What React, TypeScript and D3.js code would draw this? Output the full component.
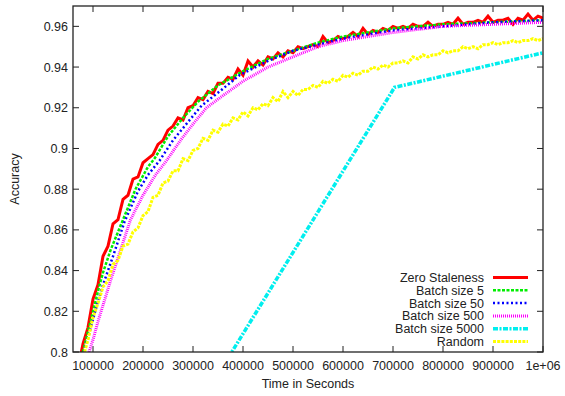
import * as React from 'react';
import * as d3 from 'd3';

// Zero Staleness (noisy)
const zeroStaleness: [number, number][] = [
  [75000, 0.798], [80000, 0.804], [90000, 0.812], [100000, 0.826], [110000, 0.833],
  [120000, 0.847], [130000, 0.852], [140000, 0.863], [150000, 0.865], [160000, 0.875],
  [170000, 0.877], [180000, 0.885], [190000, 0.886], [200000, 0.893], [210000, 0.895],
  [220000, 0.897], [230000, 0.902], [240000, 0.904], [250000, 0.909], [260000, 0.911],
  [270000, 0.915], [280000, 0.914], [290000, 0.920], [300000, 0.921], [310000, 0.925],
  [320000, 0.924], [330000, 0.928], [340000, 0.927], [350000, 0.932], [360000, 0.932],
  [370000, 0.935], [380000, 0.934], [390000, 0.939], [400000, 0.936], [410000, 0.943],
  [420000, 0.940], [430000, 0.943], [440000, 0.941], [450000, 0.945], [460000, 0.944],
  [470000, 0.947], [480000, 0.945], [490000, 0.948], [500000, 0.947], [510000, 0.950],
  [520000, 0.949], [530000, 0.950], [540000, 0.951], [550000, 0.950], [560000, 0.955],
  [570000, 0.952], [580000, 0.953], [590000, 0.955], [600000, 0.954], [610000, 0.955],
  [620000, 0.957], [630000, 0.955], [640000, 0.959], [650000, 0.956], [660000, 0.958],
  [670000, 0.957], [680000, 0.959], [690000, 0.958], [700000, 0.960], [710000, 0.959],
  [720000, 0.960], [730000, 0.959], [740000, 0.961], [750000, 0.960], [760000, 0.960],
  [770000, 0.962], [780000, 0.960], [790000, 0.961], [800000, 0.961], [810000, 0.962],
  [820000, 0.961], [830000, 0.964], [840000, 0.961], [850000, 0.962], [860000, 0.962],
  [870000, 0.963], [880000, 0.962], [890000, 0.965], [900000, 0.962], [910000, 0.963],
  [920000, 0.963], [930000, 0.964], [940000, 0.961], [950000, 0.964], [960000, 0.963],
  [970000, 0.966], [980000, 0.963], [990000, 0.965], [1000000, 0.964],
];

const batch5: [number, number][] = [
  [80000, 0.800], [90000, 0.810], [100000, 0.820], [110000, 0.830], [120000, 0.839],
  [135000, 0.850], [160000, 0.865], [185000, 0.880], [210000, 0.891], [223000, 0.895],
  [250000, 0.906], [280000, 0.915], [310000, 0.923], [350000, 0.931], [400000, 0.938],
  [450000, 0.944], [500000, 0.948], [550000, 0.952], [600000, 0.955], [650000, 0.957],
  [700000, 0.959], [800000, 0.961], [900000, 0.962], [1000000, 0.963],
];

const batch50: [number, number][] = [
  [82000, 0.800], [90000, 0.807], [100000, 0.816], [110000, 0.825], [120000, 0.833],
  [140000, 0.847], [163000, 0.864], [190000, 0.879], [210000, 0.887], [233000, 0.894],
  [260000, 0.904], [290000, 0.913], [317000, 0.921], [353000, 0.928], [393000, 0.936],
  [450000, 0.943], [500000, 0.948], [550000, 0.951], [600000, 0.954], [650000, 0.956],
  [700000, 0.958], [800000, 0.960], [900000, 0.962], [1000000, 0.963],
];

const batch500: [number, number][] = [
  [92000, 0.800], [100000, 0.806], [110000, 0.815], [120000, 0.823], [135000, 0.835],
  [155000, 0.850], [175000, 0.865], [200000, 0.877], [225000, 0.887], [247000, 0.894],
  [275000, 0.904], [300000, 0.912], [327000, 0.920], [360000, 0.926], [400000, 0.933],
  [450000, 0.940], [500000, 0.945], [550000, 0.950], [600000, 0.953], [650000, 0.955],
  [700000, 0.957], [800000, 0.960], [900000, 0.961], [1000000, 0.962],
];

const batch5000: [number, number][] = [
  [350000, 0.789], [703000, 0.930], [1000000, 0.947],
];

// Random (noisy)
const randomSeries: [number, number][] = [
  [83000, 0.800], [90000, 0.806], [100000, 0.817], [110000, 0.824], [120000, 0.832],
  [130000, 0.835], [140000, 0.843], [150000, 0.845], [160000, 0.852], [170000, 0.853],
  [180000, 0.859], [190000, 0.861], [200000, 0.867], [210000, 0.869], [220000, 0.876],
  [230000, 0.877], [240000, 0.883], [250000, 0.884], [260000, 0.889], [270000, 0.889],
  [280000, 0.895], [290000, 0.894], [300000, 0.899], [310000, 0.900], [320000, 0.905],
  [330000, 0.904], [340000, 0.909], [350000, 0.908], [360000, 0.912], [370000, 0.911],
  [380000, 0.915], [390000, 0.914], [400000, 0.918], [410000, 0.916], [420000, 0.920],
  [430000, 0.919], [440000, 0.922], [450000, 0.921], [460000, 0.925], [470000, 0.923],
  [480000, 0.928], [490000, 0.925], [500000, 0.928], [510000, 0.926], [520000, 0.929],
  [530000, 0.929], [540000, 0.931], [550000, 0.930], [560000, 0.933], [570000, 0.932],
  [580000, 0.934], [590000, 0.933], [600000, 0.936], [610000, 0.935], [620000, 0.937],
  [630000, 0.936], [640000, 0.938], [650000, 0.938], [660000, 0.940], [670000, 0.939],
  [680000, 0.941], [690000, 0.940], [700000, 0.942], [710000, 0.942], [720000, 0.943],
  [730000, 0.942], [740000, 0.945], [750000, 0.944], [760000, 0.946], [770000, 0.945],
  [780000, 0.946], [790000, 0.946], [800000, 0.948], [810000, 0.947], [820000, 0.948],
  [830000, 0.948], [840000, 0.950], [850000, 0.949], [860000, 0.950], [870000, 0.949],
  [880000, 0.951], [890000, 0.951], [900000, 0.952], [910000, 0.951], [920000, 0.952],
  [930000, 0.952], [940000, 0.953], [950000, 0.952], [960000, 0.953], [970000, 0.953],
  [980000, 0.954], [990000, 0.953], [1000000, 0.954],
];

const xTicks = [100000, 200000, 300000, 400000, 500000, 600000, 700000, 800000, 900000, 1000000];
const xTickLabels = ['100000', '200000', '300000', '400000', '500000', '600000', '700000', '800000', '900000', '1e+06'];
const yTicks = [0.8, 0.82, 0.84, 0.86, 0.88, 0.9, 0.92, 0.94, 0.96];
const yTickLabels = ['0.8', '0.82', '0.84', '0.86', '0.88', '0.9', '0.92', '0.94', '0.96'];

const seriesNames = ['Zero Staleness', 'Batch size 5', 'Batch size 50', 'Batch size 500', 'Batch size 5000', 'Random'];
const seriesData = [zeroStaleness, batch5, batch50, batch500, batch5000, randomSeries];
const seriesStyles = [
  {color: '#ff0000', width: 3, dash: null},
  {color: '#00ee00', width: 2.5, dash: '3,1.5'},
  {color: '#0000ff', width: 2.5, dash: '2,2.5'},
  {color: '#ff00ff', width: 3, dash: '1,1'},
  {color: '#00eeee', width: 3.5, dash: '5,1.5,2,1.5'},
  {color: '#ffff00', width: 3, dash: '3,1.2'},
];

const FONT = 'Liberation Sans, Arial, sans-serif';

export default function App() {
  const ref = React.useRef<SVGSVGElement>(null);

  React.useEffect(() => {
    const width = 565;
    const height = 396;
    const left = 73, right = 543, top = 6, bottom = 352;

    const svg = d3.select(ref.current);
    svg.selectAll('*').remove();

    const x = d3.scaleLinear().domain([60000, 1000000]).range([left, right]);
    const y = d3.scaleLinear().domain([0.8, 0.97]).range([bottom, top]);

    svg.append('rect').attr('width', width).attr('height', height).attr('fill', '#fff');

    svg.append('clipPath').attr('id', 'plot-clip')
      .append('rect').attr('x', left).attr('y', top).attr('width', right - left).attr('height', bottom - top);

    // ticks, mirrored on all sides
    const tickLen = 6;
    const ticks = svg.append('g').attr('stroke', '#222').attr('stroke-width', 1);
    xTicks.forEach(t => {
      ticks.append('line').attr('x1', x(t)).attr('x2', x(t)).attr('y1', bottom).attr('y2', bottom - tickLen);
      ticks.append('line').attr('x1', x(t)).attr('x2', x(t)).attr('y1', top).attr('y2', top + tickLen);
    });
    yTicks.forEach(t => {
      ticks.append('line').attr('x1', left).attr('x2', left + tickLen).attr('y1', y(t)).attr('y2', y(t));
      ticks.append('line').attr('x1', right).attr('x2', right - tickLen).attr('y1', y(t)).attr('y2', y(t));
    });

    svg.append('g').selectAll('text').data(xTicks).join('text')
      .attr('x', d => x(d)).attr('y', 370)
      .attr('text-anchor', 'middle')
      .attr('font-family', FONT).attr('font-size', 12.5).attr('fill', '#222')
      .text((d, i) => xTickLabels[i]);

    svg.append('g').selectAll('text').data(yTicks).join('text')
      .attr('x', 68).attr('y', d => y(d) + 4.5)
      .attr('text-anchor', 'end')
      .attr('font-family', FONT).attr('font-size', 12.5).attr('fill', '#222')
      .text((d, i) => yTickLabels[i]);

    svg.append('text')
      .attr('x', (left + right) / 2).attr('y', 388)
      .attr('text-anchor', 'middle')
      .attr('font-family', FONT).attr('font-size', 12.5).attr('fill', '#222')
      .text('Time in Seconds');

    svg.append('text')
      .attr('transform', `translate(19,${(top + bottom) / 2}) rotate(-90)`)
      .attr('text-anchor', 'middle')
      .attr('font-family', FONT).attr('font-size', 12.5).attr('fill', '#222')
      .text('Accuracy');

    const line = d3.line<[number, number]>()
      .x(d => x(d[0]))
      .y(d => y(d[1]));

    const plot = svg.append('g').attr('clip-path', 'url(#plot-clip)');
    seriesData.forEach((data, i) => {
      const s = seriesStyles[i];
      plot.append('path')
        .datum(data)
        .attr('fill', 'none')
        .attr('stroke', s.color)
        .attr('stroke-width', s.width)
        .attr('stroke-dasharray', s.dash)
        .attr('stroke-linejoin', 'miter')
        .attr('d', line);
    });

    // legend
    const legend = svg.append('g');
    seriesNames.forEach((name, i) => {
      const s = seriesStyles[i];
      const ly = 277.5 + i * 12.8;
      legend.append('text')
        .attr('x', 484).attr('y', ly + 4.5)
        .attr('text-anchor', 'end')
        .attr('font-family', FONT).attr('font-size', 12.5).attr('fill', '#222')
        .text(name);
      legend.append('line')
        .attr('x1', 493).attr('x2', 528).attr('y1', ly).attr('y2', ly)
        .attr('stroke', s.color)
        .attr('stroke-width', s.width)
        .attr('stroke-dasharray', s.dash);
    });

    // frame
    svg.append('rect')
      .attr('x', left).attr('y', top).attr('width', right - left).attr('height', bottom - top)
      .attr('fill', 'none').attr('stroke', '#222').attr('stroke-width', 1.3);
  }, []);

  return (
    <svg ref={ref} width={565} height={396} style={{position: 'absolute', left: 0, top: 0, display: 'block'}}></svg>
  );
}
